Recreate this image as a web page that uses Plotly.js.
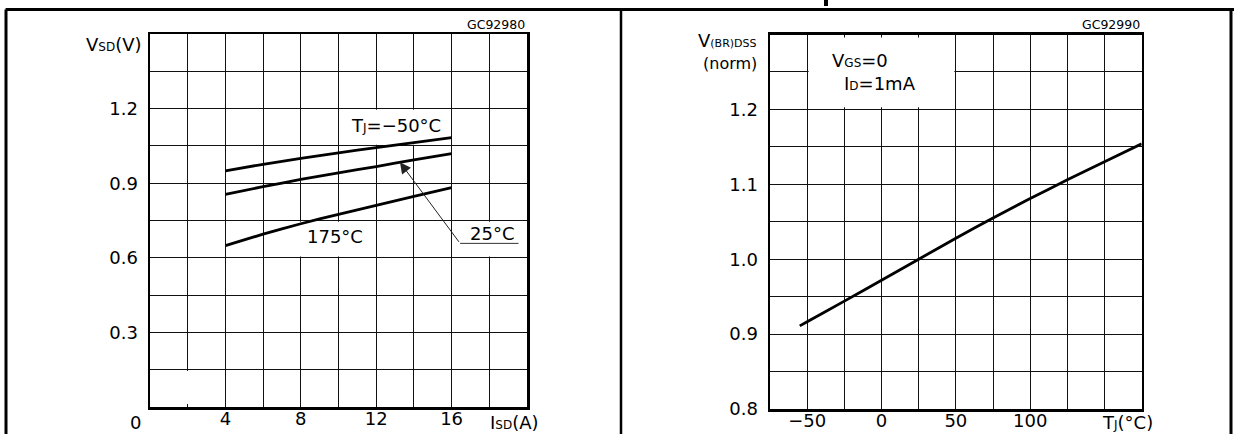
<!DOCTYPE html>
<html>
<head>
<meta charset="utf-8">
<script src="https://cdn.plot.ly/plotly-3.0.1.min.js"></script>
<style>html,body{margin:0;padding:0;background:#fff}#chart{width:1234px;height:434px}</style>
</head>
<body>
<div id="chart"></div>
<script>
// ---- Left chart: source-drain diode forward characteristics ----
const isd = [4, 6, 8, 10, 12, 14, 16];
const vsdMinus50 = [0.950, 0.976, 1.000, 1.022, 1.043, 1.063, 1.083];
const vsd25 = [0.855, 0.886, 0.915, 0.942, 0.967, 0.994, 1.019];
const vsd175 = [0.649, 0.695, 0.737, 0.775, 0.811, 0.847, 0.882];
const leftXTicks = [0, 2, 4, 6, 8, 10, 12, 14, 16, 18, 20];
const leftXLabels = ['', '', '4', '', '8', '', '12', '', '16', '', ''];
const leftYTicks = [0, 0.15, 0.3, 0.45, 0.6, 0.75, 0.9, 1.05, 1.2, 1.35, 1.5];
const leftYLabels = ['', '', '0.3', '', '0.6', '', '0.9', '', '1.2', '', ''];

// ---- Right chart: normalized breakdown voltage vs temperature ----
const tj = [-55, -50, -25, 0, 25, 50, 75, 100, 125, 150, 175];
const vbrNorm = [0.911, 0.9166, 0.944, 0.972, 1.000, 1.028, 1.055, 1.081, 1.106, 1.130, 1.154];
const rightXTicks = [-75, -50, -25, 0, 25, 50, 75, 100, 125, 150, 175];
const rightXLabels = ['', '\u221250', '', '0', '', '50', '', '100', '', '', ''];
const rightYTicks = [0.8, 0.85, 0.9, 0.95, 1.0, 1.05, 1.1, 1.15, 1.2, 1.25, 1.3];
const rightYLabels = ['0.8', '', '0.9', '', '1.0', '', '1.1', '', '1.2', '', ''];

const FONT = 'DejaVu Sans, Arial, sans-serif';
const lineStyle = {color: '#000', width: 2.8, shape: 'spline', smoothing: 0.5};

const traces = [
  {x: isd, y: vsdMinus50, mode: 'lines', line: lineStyle, xaxis: 'x', yaxis: 'y', name: 'TJ=-50°C', hoverinfo: 'skip'},
  {x: isd, y: vsd25, mode: 'lines', line: lineStyle, xaxis: 'x', yaxis: 'y', name: '25°C', hoverinfo: 'skip'},
  {x: isd, y: vsd175, mode: 'lines', line: lineStyle, xaxis: 'x', yaxis: 'y', name: '175°C', hoverinfo: 'skip'},
  {x: tj, y: vbrNorm, mode: 'lines', line: lineStyle, xaxis: 'x2', yaxis: 'y2', name: 'V(BR)DSS', hoverinfo: 'skip'}
];

const axisCommon = {
  showgrid: true, gridcolor: '#111', gridwidth: 1,
  showline: true, mirror: true, linecolor: '#000', linewidth: 2.5,
  zeroline: false, ticks: '', fixedrange: true,
  tickfont: {family: FONT, size: 18, color: '#000'}
};

const layout = {
  width: 1234, height: 434,
  margin: {l: 0, r: 0, t: 0, b: 0},
  paper_bgcolor: '#fff', plot_bgcolor: '#fff',
  showlegend: false,
  font: {family: FONT, color: '#000'},
  xaxis: Object.assign({}, axisCommon, {domain: [150/1234, 527/1234], range: [0, 20], tickmode: 'array', tickvals: leftXTicks, ticktext: leftXLabels, anchor: 'y', ticklabelstandoff: -6}),
  yaxis: Object.assign({}, axisCommon, {domain: [27/434, 400/434], range: [0, 1.5], tickmode: 'array', tickvals: leftYTicks, ticktext: leftYLabels, anchor: 'x', ticklabelstandoff: 6}),
  xaxis2: Object.assign({}, axisCommon, {domain: [770/1234, 1141.7/1234], range: [-75, 175], tickmode: 'array', tickvals: rightXTicks, ticktext: rightXLabels, anchor: 'y2', ticklabelstandoff: -6}),
  yaxis2: Object.assign({}, axisCommon, {domain: [25/434, 399.5/434], range: [0.8, 1.3], tickmode: 'array', tickvals: rightYTicks, ticktext: rightYLabels, anchor: 'x2', ticklabelstandoff: 6}),
  shapes: [
    // blank label boxes in the grids (cover gridlines, under traces)
    {type: 'rect', xref: 'x', yref: 'y', x0: 1.5, x1: 2.5, y0: 0.012, y1: 0.145, fillcolor: '#fff', line: {width: 0}, layer: 'between'},
    {type: 'rect', xref: 'x', yref: 'y', x0: 11.5, x1: 14.5, y0: 1.055, y1: 1.195, fillcolor: '#fff', line: {width: 0}, layer: 'between'},
    {type: 'rect', xref: 'x', yref: 'y', x0: 7.5, x1: 10.5, y0: 0.605, y1: 0.745, fillcolor: '#fff', line: {width: 0}, layer: 'between'},
    {type: 'rect', xref: 'x', yref: 'y', x0: 17.5, x1: 18.5, y0: 0.605, y1: 0.745, fillcolor: '#fff', line: {width: 0}, layer: 'between'},
    {type: 'rect', xref: 'x2', yref: 'y2', x0: -49, x1: 49, y0: 1.203, y1: 1.296, fillcolor: '#fff', line: {width: 0}, layer: 'between'},
    // underline of the 25°C callout
    {type: 'line', xref: 'x', yref: 'y', x0: 16.45, x1: 19.55, y0: 0.658, y1: 0.658, line: {color: '#333', width: 1}},
    // outer table frame
    {type: 'line', xref: 'paper', yref: 'paper', x0: 0.0045, x1: 1, y0: 1 - 9.5/434, y1: 1 - 9.5/434, line: {color: '#000', width: 3}},
    {type: 'line', xref: 'paper', yref: 'paper', x0: 6/1234, x1: 6/1234, y0: -0.01, y1: 1 - 9.5/434, line: {color: '#000', width: 3}},
    {type: 'line', xref: 'paper', yref: 'paper', x0: 621/1234, x1: 621/1234, y0: -0.01, y1: 1 - 9.5/434, line: {color: '#000', width: 2.5}},
    {type: 'line', xref: 'paper', yref: 'paper', x0: 1231/1234, x1: 1231/1234, y0: -0.01, y1: 1 - 9.5/434, line: {color: '#000', width: 3}},
    {type: 'line', xref: 'paper', yref: 'paper', x0: 826/1234, x1: 826/1234, y0: 1, y1: 1 - 6/434, line: {color: '#000', width: 4}}
  ],
  annotations: [
    // left chart texts
    {xref: 'x', yref: 'y', x: 0, y: 1.5, xanchor: 'right', yanchor: 'middle', xshift: -6, yshift: -10, showarrow: false,
     text: 'V<span style="font-size:12px">SD</span>(V)', font: {size: 18}},
    {xref: 'x', yref: 'y', x: 20, y: 1.5, xanchor: 'right', yanchor: 'bottom', yshift: 0, showarrow: false,
     text: 'GC92980', font: {size: 12.5}},
    {xref: 'x', yref: 'y', x: 0, y: 0, xanchor: 'center', yanchor: 'middle', xshift: -15, yshift: -15, showarrow: false,
     text: '0', font: {size: 18}},
    {xref: 'x', yref: 'y', x: 20, y: 0, xanchor: 'center', yanchor: 'middle', xshift: -13, yshift: -15, showarrow: false,
     text: 'I<span style="font-size:12px">SD</span>(A)', font: {size: 18}},
    {xref: 'x', yref: 'y', x: 13.03, y: 1.131, xanchor: 'center', yanchor: 'middle', showarrow: false,
     text: 'T<span style="font-size:12px">J</span>=\u221250°C', font: {size: 18}},
    {xref: 'x', yref: 'y', x: 9.81, y: 0.684, xanchor: 'center', yanchor: 'middle', showarrow: false,
     text: '175°C', font: {size: 18}},
    {xref: 'x', yref: 'y', x: 18.13, y: 0.698, xanchor: 'center', yanchor: 'middle', showarrow: false,
     text: '25°C', font: {size: 18}},
    {xref: 'x', yref: 'y', x: 13.26, y: 0.984, axref: 'x', ayref: 'y', ax: 16.45, ay: 0.658, text: '', showarrow: true,
     arrowhead: 2, arrowsize: 2.2, arrowwidth: 1, arrowcolor: '#222', standoff: 0, startstandoff: 0},
    // right chart texts
    {xref: 'x2', yref: 'y2', x: -75, y: 1.3, xanchor: 'right', yanchor: 'middle', xshift: -11, yshift: -6, showarrow: false,
     text: 'V<span style="font-size:11px">(BR)DSS</span>', font: {size: 18}},
    {xref: 'x2', yref: 'y2', x: -75, y: 1.3, xanchor: 'right', yanchor: 'middle', xshift: -11, yshift: -29, showarrow: false,
     text: '(norm)', font: {size: 16}},
    {xref: 'x2', yref: 'y2', x: 175, y: 1.3, xanchor: 'right', yanchor: 'bottom', yshift: 0, showarrow: false,
     text: 'GC92990', font: {size: 12.5}},
    {xref: 'x2', yref: 'y2', x: -34.6, y: 1.265, xanchor: 'left', yanchor: 'middle', showarrow: false,
     text: 'V<span style="font-size:12px">GS</span>=0', font: {size: 18}},
    {xref: 'x2', yref: 'y2', x: -26.8, y: 1.235, xanchor: 'left', yanchor: 'middle', showarrow: false,
     text: 'I<span style="font-size:12px">D</span>=1mA', font: {size: 18}},
    {xref: 'x2', yref: 'y2', x: 175, y: 0.8, xanchor: 'center', yanchor: 'middle', xshift: -14, yshift: -13, showarrow: false,
     text: 'T<span style="font-size:12px">J</span>(°C)', font: {size: 18}}
  ]
};

Plotly.newPlot('chart', traces, layout, {staticPlot: true, displayModeBar: false});
</script>
</body>
</html>
